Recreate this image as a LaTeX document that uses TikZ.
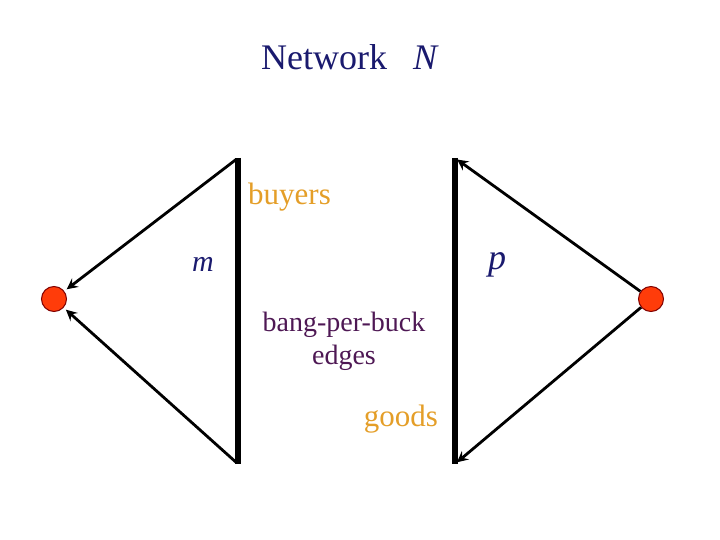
\documentclass[tikz,border=0pt]{standalone}
\usepackage{fontspec}
\setmainfont{Liberation Serif}
\usetikzlibrary{arrows}
\definecolor{navy}{RGB}{26,26,110}
\definecolor{gold}{RGB}{228,158,40}
\definecolor{plum}{RGB}{78,24,84}
\definecolor{dotred}{RGB}{255,60,10}
\begin{document}
\begin{tikzpicture}[x=0.5pt, y=-0.5pt, line width=0.5pt]
  \useasboundingbox (0,0) rectangle (720,540);
  \tikzset{vertex/.style={circle, fill=dotred, draw=red!50!black, line width=0.5pt, minimum size=12.5pt, inner sep=0pt},
           side/.style={line width=2.6pt},
           edge/.style={->, >=stealth, line width=1.4pt}}
  % title
  \node[font=\fontsize{18}{22}\selectfont, text=navy] (title) at (350,57) {Network\hspace{13pt}\textit{N}};
  % two sides
  \coordinate (bTop) at (238,158);
  \coordinate (bBot) at (238,464);
  \coordinate (gTop) at (455,158);
  \coordinate (gBot) at (455,464);
  \draw[side] (bTop) -- (bBot);
  \draw[side] (gTop) -- (gBot);
  % source and sink
  \node[vertex] (src) at (54,299) {};
  \node[vertex] (snk) at (651,299) {};
  \draw[edge, shorten <=1.2pt, shorten >=1.5pt] (bTop) -- (src);
  \draw[edge, shorten <=1.2pt, shorten >=1.5pt] (bBot) -- (src);
  \draw[edge, shorten >=1.3pt] (snk) -- (gTop);
  \draw[edge, shorten >=1.3pt] (snk) -- (gBot);
  % labels
  \node[anchor=west, font=\fontsize{15.5}{18}\selectfont, text=gold] (buyers) at (241,197) {buyers};
  \node[font=\fontsize{15.5}{18}\selectfont, text=gold] (goods) at (401,419) {goods};
  \node[font=\fontsize{14}{16.5}\selectfont, text=plum, align=center] (bpb) at (344,341) {bang-per-buck\\edges};
  \node[font=\fontsize{15}{18}\selectfont, text=navy] (m) at (203,264) {\textit{m}};
  \node[font=\fontsize{18}{20}\selectfont, text=navy] (p) at (497,265) {\textit{p}};
\end{tikzpicture}
\end{document}
